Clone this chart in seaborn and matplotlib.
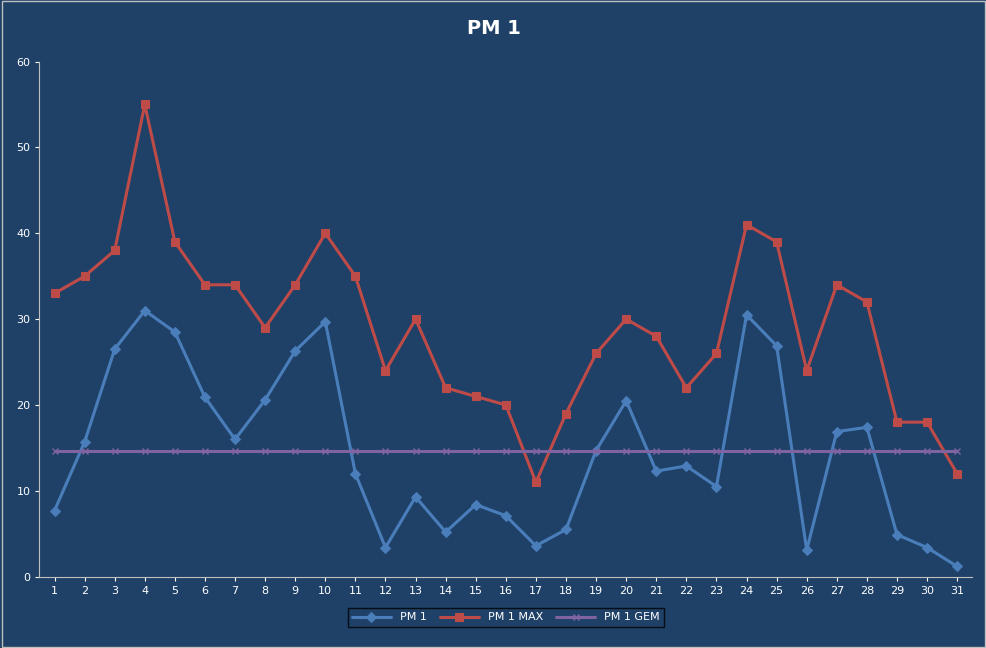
import matplotlib
matplotlib.use("Agg")
import matplotlib.pyplot as plt
import seaborn as sns
import pandas as pd

days = list(range(1, 32))
pm1 = [7.7, 15.7, 26.5, 31.0, 28.5, 20.9, 16.0, 20.6, 26.3, 29.7, 12.0, 3.4, 9.3, 5.2, 8.4, 7.1,
       3.6, 5.5, 14.7, 20.5, 12.3, 12.9, 10.5, 30.5, 26.9, 3.1, 16.9, 17.4, 4.9, 3.4, 1.2]
pm1_max = [33, 35, 38, 55, 39, 34, 34, 29, 34, 40, 35, 24, 30, 22, 21, 20, 11, 19, 26, 30, 28,
           22, 26, 41, 39, 24, 34, 32, 18, 18, 12]
pm1_gem = [14.65] * 31

sns.set_style("dark")
plt.rcParams['font.family'] = ['DejaVu Sans']
bg = "#1F4167"

fig = plt.figure(figsize=(9.87, 6.48), dpi=100, facecolor=bg)
ax = fig.add_axes([0.04, 0.11, 0.945, 0.795])
ax.set_facecolor(bg)

df = pd.DataFrame({"day": days, "PM 1": pm1, "PM 1 MAX": pm1_max, "PM 1 GEM": pm1_gem})
sns.lineplot(data=df, x="day", y="PM 1", ax=ax, color="#4A7EBB", lw=2.2, marker="D", ms=5,
             mec="#4A7EBB", label="PM 1")
sns.lineplot(data=df, x="day", y="PM 1 MAX", ax=ax, color="#BE4B48", lw=2.2, marker="s", ms=6,
             mec="#BE4B48", label="PM 1 MAX")
sns.lineplot(data=df, x="day", y="PM 1 GEM", ax=ax, color="#8064A2", lw=2.2, marker="x", ms=5,
             mew=1, mec="#8064A2", label="PM 1 GEM")

ax.set_xlim(0.5, 31.5)
ax.set_ylim(0, 60)
ax.set_xticks(days)
ax.set_yticks(range(0, 61, 10))
ax.set_xlabel("")
ax.set_ylabel("")
ax.grid(False)
ax.tick_params(colors="white", labelsize=8, length=3, left=True, bottom=True)
for s in ["top", "right"]:
    ax.spines[s].set_visible(False)
for s in ["left", "bottom"]:
    ax.spines[s].set_color("#BFBFBF")
    ax.spines[s].set_visible(True)

fig.suptitle("PM 1", color="white", fontsize=14, fontweight="bold", y=0.97)
leg = ax.legend(loc="upper center", bbox_to_anchor=(0.5, -0.05), ncol=3, frameon=True,
                fontsize=8, fancybox=False, handlelength=3.5, columnspacing=1.2)
leg.get_frame().set_facecolor(bg)
leg.get_frame().set_edgecolor("black")
for t in leg.get_texts():
    t.set_color("white")

fig.patches.append(plt.Rectangle((0.002, 0.002), 0.996, 0.996, transform=fig.transFigure,
                                 fill=False, edgecolor="#BFBFBF", lw=1))
fig.savefig("out.png", facecolor=bg)
